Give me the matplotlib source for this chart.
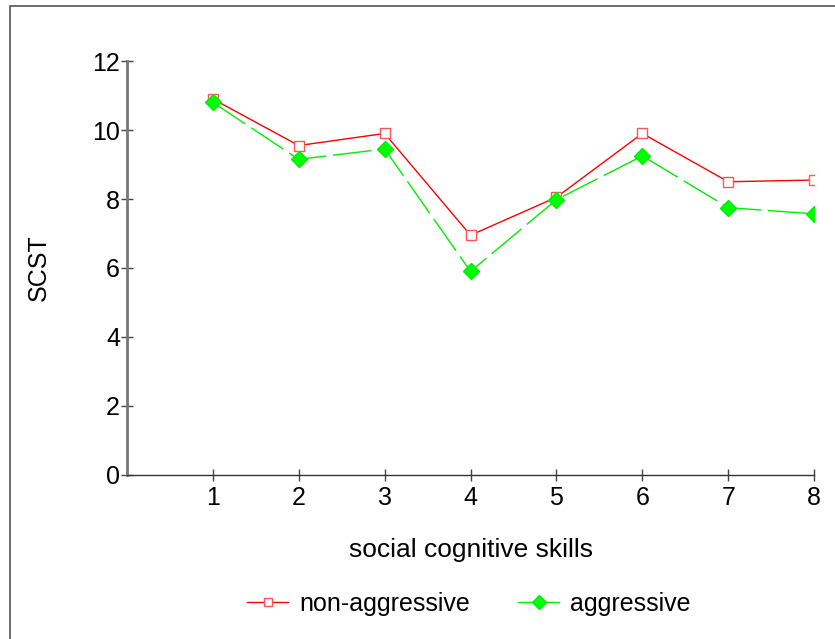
import matplotlib
matplotlib.use("Agg")
import matplotlib.pyplot as plt
from matplotlib.patches import Rectangle
from matplotlib.lines import Line2D

plt.rcParams['font.family'] = ['Liberation Sans', 'DejaVu Sans']

skills = [1, 2, 3, 4, 5, 6, 7, 8]
non_aggressive = [10.9, 9.55, 9.9, 6.95, 8.05, 9.9, 8.5, 8.55]
aggressive = [10.8, 9.15, 9.45, 5.9, 7.98, 9.25, 7.75, 7.57]

fig = plt.figure(figsize=(8.35, 6.39), dpi=100)
ax = fig.add_axes([0.152, 0.2567, 0.823, 0.6478])

# frame around the whole figure (cut off at right and bottom)
fig.patches.append(Rectangle((10 / 835, -0.1), 1.2, 1 - 6 / 639 + 0.1,
                             transform=fig.transFigure, fill=False,
                             edgecolor='#555555', linewidth=1.2))

red_style = dict(color='#ff0000', linewidth=1.0, marker='s', markersize=7,
                 markerfacecolor='white', markeredgecolor='#ff5555',
                 markeredgewidth=1.0)
green_style = dict(color='#00ee00', linewidth=1.0, marker='D', markersize=8,
                   markerfacecolor='#00ff00', markeredgecolor='#00ee00')

ax.plot(skills, non_aggressive, **red_style)
ax.plot(skills, aggressive, dashes=(28, 5), **green_style)

ax.set_xlim(0, 8)
ax.set_ylim(0, 12)
ax.set_xticks(skills)
ax.set_yticks([0, 2, 4, 6, 8, 10, 12])

for side in ['top', 'right']:
    ax.spines[side].set_visible(False)
ax.spines['left'].set_color('#777777')
ax.spines['left'].set_linewidth(2.0)
ax.spines['bottom'].set_color('#333333')
ax.spines['bottom'].set_linewidth(1.0)

ax.tick_params(axis='both', direction='inout', length=8, width=1.0,
               labelsize=18, color='#444444')
ax.tick_params(axis='x', pad=4)
ax.tick_params(axis='y', pad=1)

ax.set_xlabel('social cognitive skills', fontsize=19, labelpad=20)
ax.set_ylabel('SCST', fontsize=18, labelpad=30)

# legend handles drawn solid, as in the original
handles = [Line2D([], [], **red_style), Line2D([], [], **green_style)]
fig.legend(handles, ['non-aggressive', 'aggressive'], loc='center',
           bbox_to_anchor=(469 / 835, 1 - 604 / 639), ncol=2,
           frameon=False, fontsize=18, handlelength=1.65, columnspacing=1.9,
           handletextpad=0.45, markerscale=0.85)

plt.savefig('out.png', dpi=100)
